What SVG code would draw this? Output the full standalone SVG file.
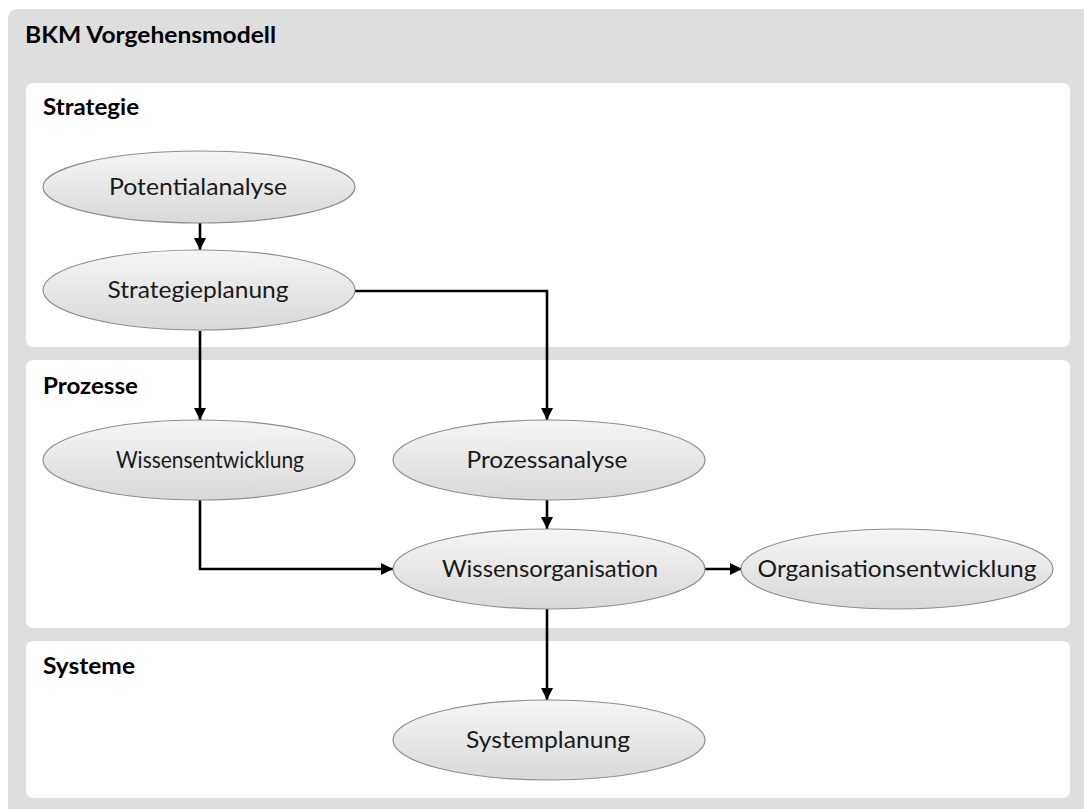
<svg xmlns="http://www.w3.org/2000/svg" width="1084" height="809" viewBox="0 0 1084 809">
  <style>
    .frame { fill: #dedede; }
    .panel { fill: #ffffff; }
    .title { font-family: Lato, "Liberation Sans", sans-serif; font-weight: bold; font-size: 22px; fill: #000; }
    .node ellipse { fill: url(#nodeFill); stroke: #8e8e8e; stroke-width: 1.2; }
    .node text { font-family: Lato, "Liberation Sans", sans-serif; font-size: 24px; fill: #1a1a1a; text-anchor: middle; }
    .edge { fill: none; stroke: #000; stroke-width: 2.6; marker-end: url(#arrow); }
  </style>
  <defs>
    <linearGradient id="nodeFill" x1="0" y1="0" x2="0" y2="1">
      <stop offset="0" stop-color="#f5f5f5"/>
      <stop offset="1" stop-color="#d9d9d9"/>
    </linearGradient>
    <marker id="arrow" markerUnits="userSpaceOnUse" markerWidth="12" markerHeight="12" viewBox="0 0 12 12" refX="12" refY="6" orient="auto">
      <path d="M0,0 L12,6 L0,12 z" fill="#000"/>
    </marker>
  </defs>

  <!-- outer frame -->
  <rect class="frame" x="8" y="9" width="1090" height="820" rx="9"/>
  <text class="title" x="25" y="43" textLength="251" lengthAdjust="spacingAndGlyphs">BKM Vorgehensmodell</text>

  <!-- swimlanes -->
  <g id="lane-strategie">
    <rect class="panel" x="26" y="83" width="1044" height="264" rx="7"/>
    <text class="title" x="43" y="115" textLength="96" lengthAdjust="spacingAndGlyphs">Strategie</text>
  </g>
  <g id="lane-prozesse">
    <rect class="panel" x="26" y="360" width="1044" height="268" rx="7"/>
    <text class="title" x="43" y="394" textLength="95" lengthAdjust="spacingAndGlyphs">Prozesse</text>
  </g>
  <g id="lane-systeme">
    <rect class="panel" x="26" y="641" width="1044" height="157" rx="7"/>
    <text class="title" x="43" y="674" textLength="92" lengthAdjust="spacingAndGlyphs">Systeme</text>
  </g>

  <!-- connectors -->
  <g id="connectors">
    <path class="edge" d="M200,223 V250"/>
    <path class="edge" d="M355,291 H547 V420"/>
    <path class="edge" d="M200,331 V420"/>
    <path class="edge" d="M200,500 V569 H393"/>
    <path class="edge" d="M547,500 V529"/>
    <path class="edge" d="M705,569 H742"/>
    <path class="edge" d="M547,609 V700"/>
  </g>

  <!-- nodes -->
  <g id="potentialanalyse" class="node">
    <ellipse cx="199" cy="187" rx="156" ry="36"/>
    <text x="198" y="195" textLength="178" lengthAdjust="spacingAndGlyphs">Potentialanalyse</text>
  </g>
  <g id="strategieplanung" class="node">
    <ellipse cx="199" cy="290" rx="156" ry="40"/>
    <text x="198" y="298" textLength="181" lengthAdjust="spacingAndGlyphs">Strategieplanung</text>
  </g>
  <g id="wissensentwicklung" class="node">
    <ellipse cx="199" cy="460" rx="156" ry="40"/>
    <text x="210" y="468" textLength="188" lengthAdjust="spacingAndGlyphs">Wissensentwicklung</text>
  </g>
  <g id="prozessanalyse" class="node">
    <ellipse cx="549" cy="460" rx="156" ry="40"/>
    <text x="547" y="468" textLength="161" lengthAdjust="spacingAndGlyphs">Prozessanalyse</text>
  </g>
  <g id="wissensorganisation" class="node">
    <ellipse cx="549" cy="569" rx="156" ry="40"/>
    <text x="550" y="577" textLength="216" lengthAdjust="spacingAndGlyphs">Wissensorganisation</text>
  </g>
  <g id="organisationsentwicklung" class="node">
    <ellipse cx="897" cy="569" rx="156" ry="40"/>
    <text x="897" y="577" textLength="279" lengthAdjust="spacingAndGlyphs">Organisationsentwicklung</text>
  </g>
  <g id="systemplanung" class="node">
    <ellipse cx="549" cy="740" rx="156" ry="40"/>
    <text x="548" y="748" textLength="164" lengthAdjust="spacingAndGlyphs">Systemplanung</text>
  </g>
</svg>
